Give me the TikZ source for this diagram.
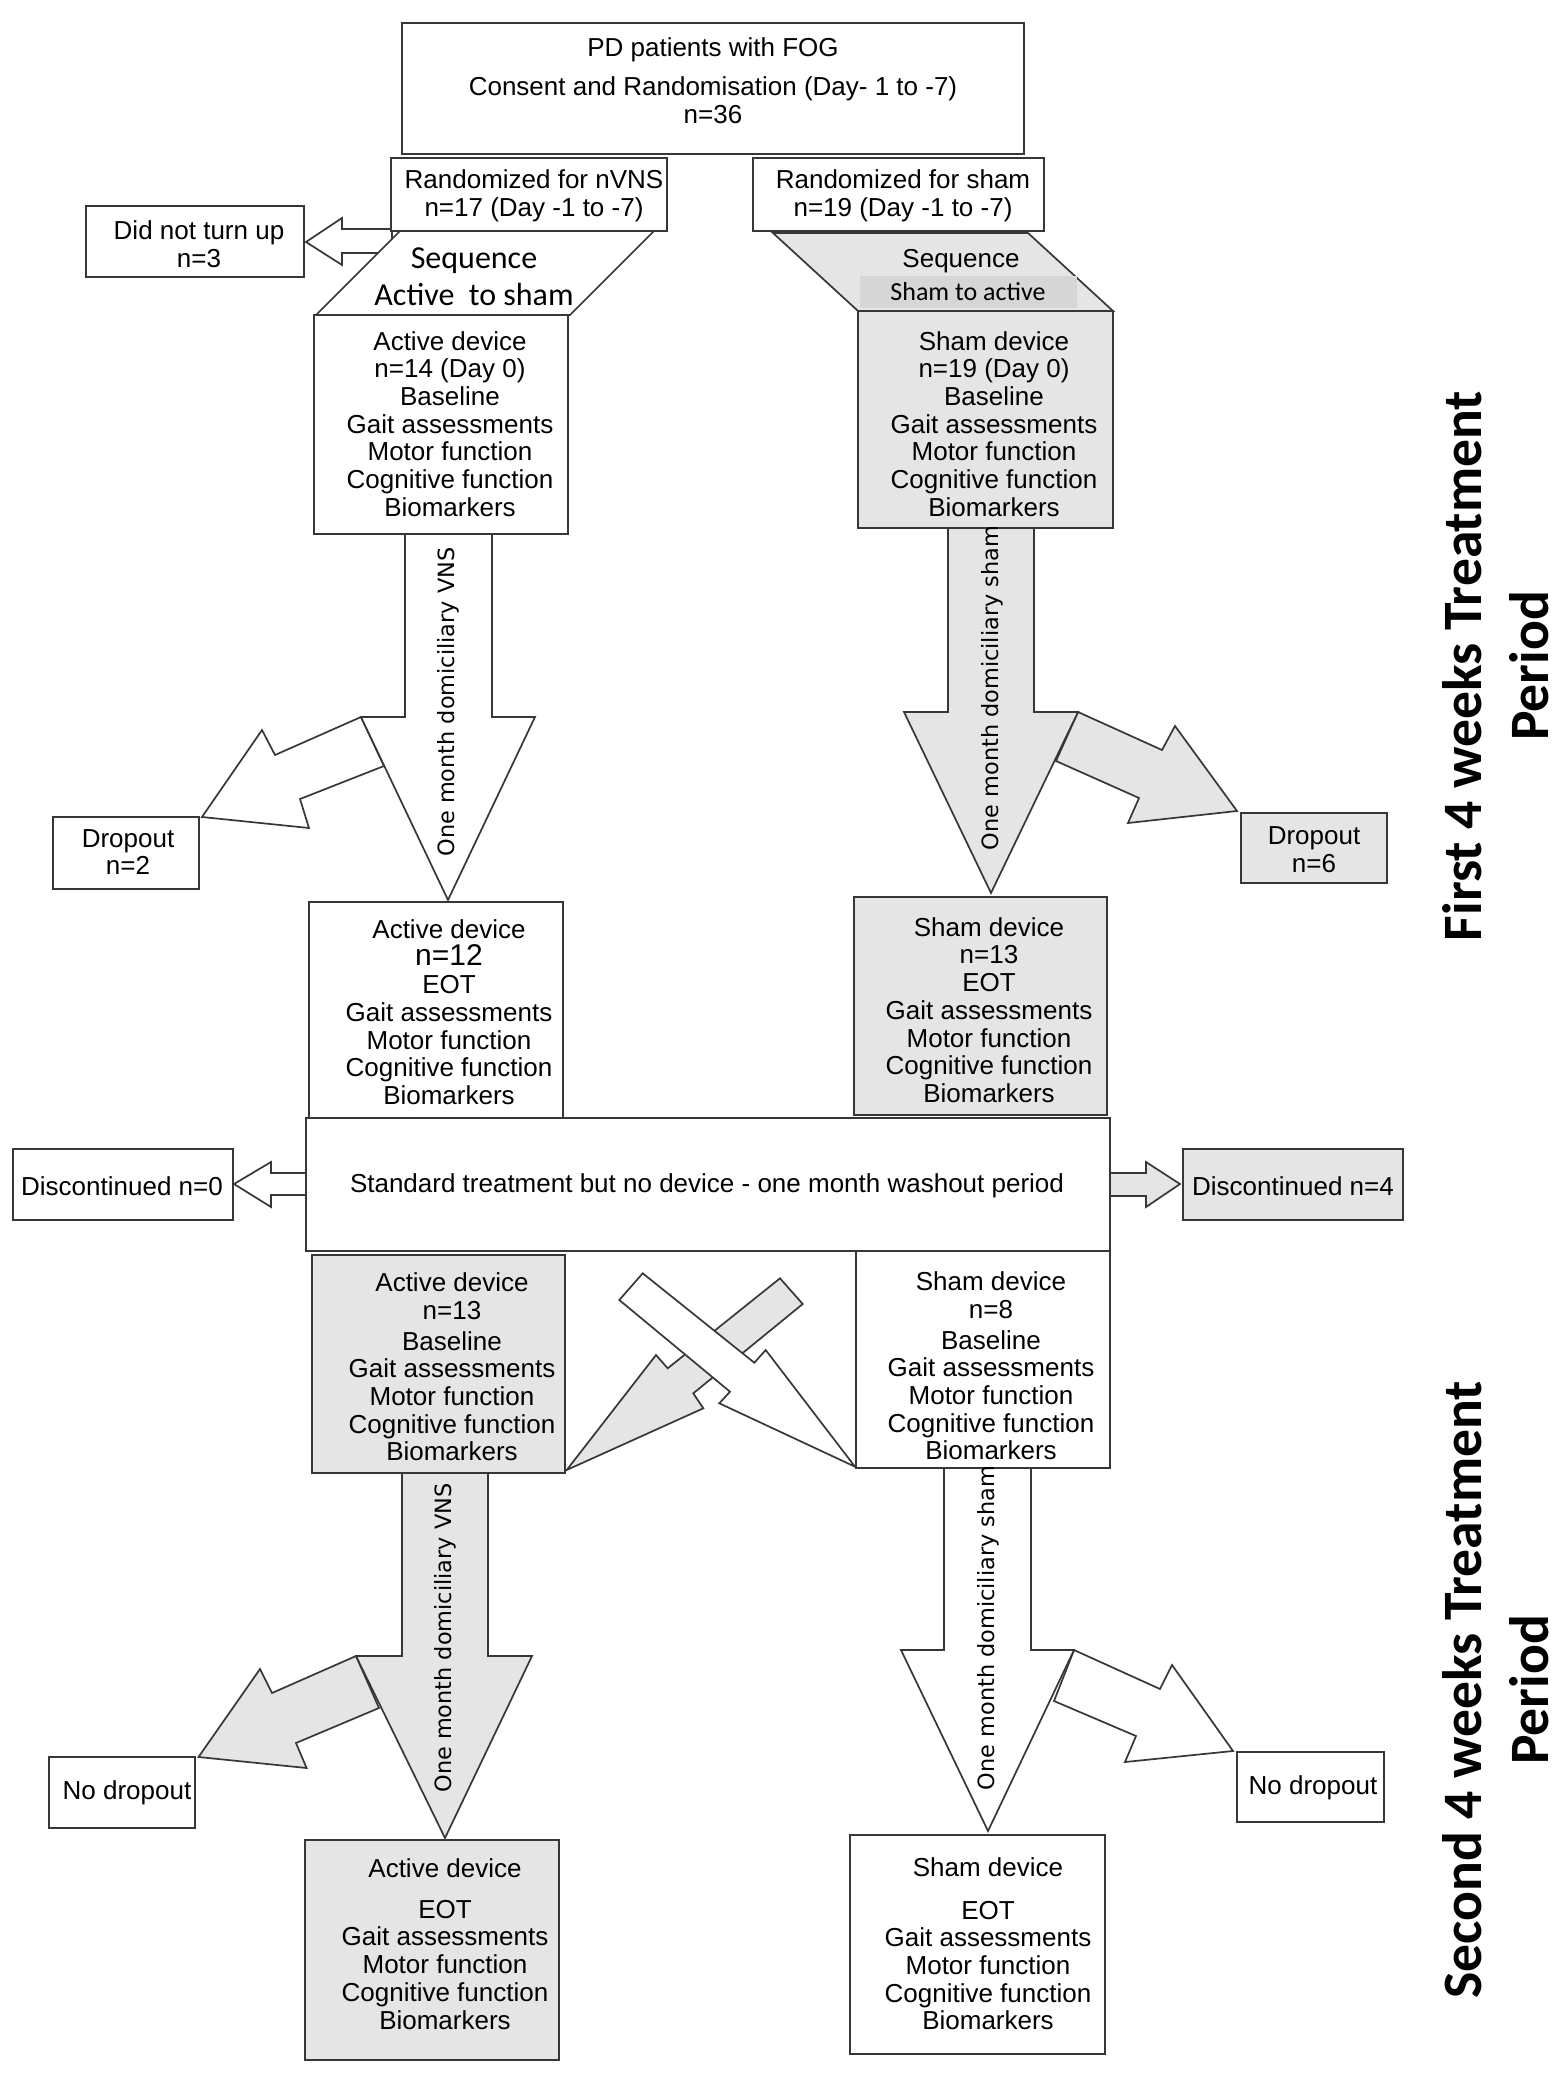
\documentclass[tikz,border=0pt]{standalone}
\usepackage{fontspec}
\setmainfont{Liberation Sans}
\newfontfamily\calib{Carlito}
\newfontfamily\dejavu{DejaVu Sans}
\usetikzlibrary{fit}
\definecolor{boxgray}{RGB}{229,229,229}
\definecolor{innergray}{RGB}{214,214,214}
\definecolor{edgecol}{RGB}{55,55,55}
\begin{document}
\begin{tikzpicture}[x=0.5pt,y=-0.5pt,
  ol/.style={draw=edgecol,line width=0.85pt,line join=miter},
  wshape/.style={ol,fill=white},
  gshape/.style={ol,fill=boxgray},
  wbox/.style={wshape,inner sep=0pt},
  gbox/.style={gshape,inner sep=0pt},
  txt/.style={font=\fontsize{13}{13.85}\selectfont,align=center,inner sep=0pt},
  vtxt/.style={font=\dejavu\fontsize{11.2}{13}\selectfont,rotate=90,inner sep=0pt},
  side/.style={font=\calib\bfseries\fontsize{27.8}{33.5}\selectfont,rotate=90,align=center,inner sep=0pt}]

\fill[white] (0,0) rectangle (1559,2075);
\useasboundingbox (0,0) rectangle (1559,2075);

% ---------- dropout block arrows ----------
\draw[wshape] (361,717) -- (275,755) -- (262,730) -- (202,817) -- (309,828) -- (300,799) -- (384,766) -- cycle;
\draw[gshape] (1078,712) -- (1162,750) -- (1175,726) -- (1237,811) -- (1128,823) -- (1139,798) -- (1056,761) -- cycle;
\draw[gshape] (356,1656) -- (272,1693) -- (260,1669) -- (198.5,1757) -- (306.6,1768) -- (296,1743) -- (379,1708) -- cycle;
\draw[wshape] (1074,1650) -- (1160,1689) -- (1172,1665) -- (1233,1751) -- (1125,1762) -- (1136,1736) -- (1054,1701) -- cycle;

% ---------- main down block arrows ----------
\draw[wshape] (405,534) -- (405,717) -- (361,717) -- (448,900) -- (535,717) -- (492,717) -- (492,534);
\draw[gshape] (948,528) -- (948,712) -- (904,712) -- (991,893) -- (1078,712) -- (1034,712) -- (1034,528);
\draw[gshape] (402,1473) -- (402,1656) -- (356,1656) -- (445,1838) -- (532,1656) -- (488,1656) -- (488,1473);
\draw[wshape] (944,1468) -- (944,1650) -- (901,1650) -- (988,1831) -- (1074,1650) -- (1031,1650) -- (1031,1468);

% ---------- small side arrows ----------
\draw[wshape] (392,229) -- (342,229) -- (342,218) -- (306,242) -- (342,265) -- (342,253) -- (392,253) -- cycle;
\draw[wshape] (306,1173) -- (271,1173) -- (271,1162) -- (234,1184) -- (271,1207) -- (271,1195) -- (306,1195);
\draw[gshape] (1110,1173) -- (1146,1173) -- (1146,1162) -- (1180,1184) -- (1146,1207) -- (1146,1196) -- (1110,1196);

% ---------- crossing arrows ----------
\draw[gshape] (780,1278.3) -- (802.7,1304) -- (693.3,1393.3) -- (703.3,1408.3) -- (566.7,1470) -- (656,1355) -- (667.7,1368.3) -- cycle;
\draw[wshape] (642.7,1273.3) -- (754.3,1362.7) -- (765.7,1350) -- (855,1466.7) -- (719.3,1403.3) -- (730,1391.7) -- (619.3,1300) -- cycle;

% ---------- sequence parallelograms ----------
\draw[wshape] (400,231) -- (654,231) -- (570,315) -- (316,315) -- cycle;
\draw[gshape] (773,233) -- (1028,233) -- (1113,311) -- (858,311) -- cycle;
\node[fill=innergray,inner sep=0pt,fit={(860,276) (1077,308)}] (seqinner) {};

% ---------- boxes ----------
\node[wbox,fit={(402,23) (1024,154)}] (top) {};
\node[wbox,fit={(391,158) (667,231)}] (randL) {};
\node[wbox,fit={(753,158) (1044,231)}] (randR) {};
\node[wbox,fit={(86,206) (304,277)}] (noshow) {};
\node[wbox,fit={(314,315) (568,534)}] (actA) {};
\node[gbox,fit={(858,311) (1113,528)}] (shamA) {};
\node[wbox,fit={(53,817) (199,889)}] (dropL) {};
\node[gbox,fit={(1241,813) (1387,883)}] (dropR) {};
\node[wbox,fit={(309,902) (563,1118)}] (actB) {};
\node[gbox,fit={(854,897) (1107,1115)}] (shamB) {};
\node[wbox,fit={(306,1118) (1110,1251)}] (wash) {};
\node[wbox,fit={(13,1149) (233,1220)}] (discL) {};
\node[gbox,fit={(1183,1149) (1403,1220)}] (discR) {};
\node[gbox,fit={(312,1255) (565,1473)}] (actC) {};
\node[wbox,fit={(856,1251) (1110,1468)}] (shamC) {};
\node[wbox,fit={(49,1757) (195,1828)}] (nodropL) {};
\node[wbox,fit={(1237,1752) (1384,1822)}] (nodropR) {};
\node[gbox,fit={(305,1840) (559,2060)}] (actD) {};
\node[wbox,fit={(850,1835) (1105,2054)}] (shamD) {};

% ---------- texts ----------
\node[txt] (t-top) at (713,81) {PD patients with FOG\\[5.6pt]Consent and Randomisation (Day- 1 to -7)\\n=36};
\node[txt] (t-randL) at (534,196) {Randomized for nVNS\\n=17 (Day -1 to -7)};
\node[txt] (t-randR) at (903,196) {Randomized for sham\\n=19 (Day -1 to -7)};
\node[txt] (t-noshow) at (199,244) {Did not turn up\\n=3};
\node[txt,font=\calib\fontsize{16}{18.5}\selectfont] (t-seqL) at (474,277) {Sequence\\Active\ \ to sham};
\node[txt] (t-seqR) at (961,261) {Sequence};
\node[txt,font=\calib\fontsize{13}{14}\selectfont] (t-seqR2) at (968,292) {Sham to active};
\node[txt] (t-actA) at (450,424) {Active device\\n=14 (Day 0)\\Baseline\\Gait assessments\\Motor function\\Cognitive function\\Biomarkers};
\node[txt] (t-shamA) at (994,424) {Sham device\\n=19 (Day 0)\\Baseline\\Gait assessments\\Motor function\\Cognitive function\\Biomarkers};
\node[txt] (t-dropL) at (128,852) {Dropout\\n=2};
\node[txt] (t-dropR) at (1314,850) {Dropout\\n=6};
\node[txt] (t-actB) at (449,1012) {Active device\\{\fontsize{15}{15}\selectfont n=12}\\EOT\\Gait assessments\\Motor function\\Cognitive function\\Biomarkers};
\node[txt] (t-shamB) at (989,1010) {Sham device\\n=13\\EOT\\Gait assessments\\Motor function\\Cognitive function\\Biomarkers};
\node[txt] (t-wash) at (707,1186) {Standard treatment but no device - one month washout period};
\node[txt] (t-discL) at (122,1186) {Discontinued n=0};
\node[txt] (t-discR) at (1293,1186) {Discontinued n=4};
\node[txt] (t-actC) at (452,1367) {Active device\\n=13\\[1.5pt]Baseline\\Gait assessments\\Motor function\\Cognitive function\\Biomarkers};
\node[txt] (t-shamC) at (991,1366) {Sham device\\n=8\\[1.5pt]Baseline\\Gait assessments\\Motor function\\Cognitive function\\Biomarkers};
\node[txt] (t-nodropL) at (127,1793) {No dropout};
\node[txt] (t-nodropR) at (1313,1788) {No dropout};
\node[txt] (t-actD) at (445,1944) {Active device\\[6.5pt]EOT\\Gait assessments\\Motor function\\Cognitive function\\Biomarkers};
\node[txt] (t-shamD) at (988,1944) {Sham device\\[7.4pt]EOT\\Gait assessments\\Motor function\\Cognitive function\\Biomarkers};

% rotated arrow labels
\node[vtxt] (v1) at (448,702) {One month domiciliary VNS};
\node[vtxt] (v2) at (992,688) {One month domiciliary sham};
\node[vtxt] (v3) at (445,1638) {One month domiciliary VNS};
\node[vtxt] (v4) at (988,1628) {One month domiciliary sham};

% side period labels
\node[side] (p1) at (1496,666) {First 4 weeks Treatment\\Period};
\node[side] (p2) at (1496,1690) {Second 4 weeks Treatment\\Period};
\end{tikzpicture}
\end{document}
